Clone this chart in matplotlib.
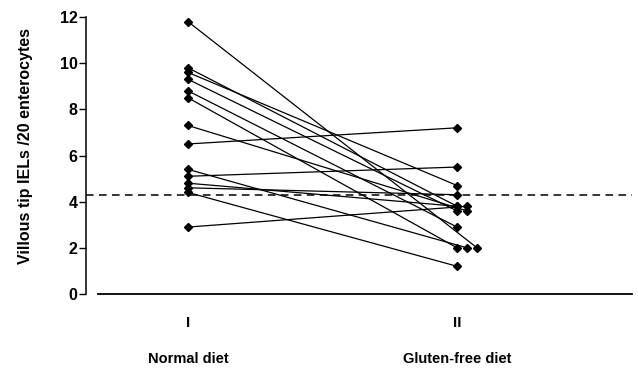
import matplotlib
matplotlib.use('Agg')
import matplotlib.pyplot as plt
import numpy as np

plt.rcParams['font.family'] = ['Liberation Sans', 'DejaVu Sans']

# IEL counts per patient: normal diet (I) -> gluten-free diet (II)
normal_diet = [11.8, 9.8, 9.6, 9.3, 8.8, 8.5, 7.3, 6.5, 5.4, 5.1, 4.8, 4.6, 4.4, 2.9]
gluten_free = [2.0, 3.8, 4.7, 3.6, 2.9, 2.0, 3.6, 7.2, 2.0, 5.5, 3.8, 4.3, 1.2, 3.8]
# small sideways shift used in the original to separate equal values
gf_shift = [0.074, 0, 0, 0, 0, 0, 0.037, 0, 0.037, 0, 0, 0, 0, 0.037]
cutoff = 4.3

group_pos = [1, 2]
group_ticks = ['I', 'II']
group_names = ['Normal diet', 'Gluten-free diet']

fig = plt.figure(figsize=(6.38, 3.74), dpi=100)
ax = fig.add_axes([86/638, 80/374, 546/638, 277/374])

for a, b, s in zip(normal_diet, gluten_free, gf_shift):
    ax.plot([group_pos[0], group_pos[1] + s], [a, b], '-', color='black',
            linewidth=0.9, marker='D', markersize=4.2, clip_on=False)

ax.axhline(cutoff, color='black', linestyle=(0, (5, 3.5)), linewidth=1.1)

ax.set_xlim(0.621, 2.65)
ax.set_ylim(0, 12)
ax.set_yticks(np.arange(0, 13, 2))
ax.tick_params(axis='y', direction='out', length=5, width=1, pad=1,
               labelsize=11.5)
for lab in ax.get_yticklabels():
    lab.set_fontweight('bold')
ax.set_xticks([])

ax.spines['top'].set_visible(False)
ax.spines['right'].set_visible(False)
ax.spines['left'].set_linewidth(1.1)
ax.spines['bottom'].set_linewidth(1.3)
ax.spines['bottom'].set_bounds(0.665, 2.65)

ax.set_ylabel('Villous tip IELs /20 enterocytes', fontsize=11.5,
              fontweight='bold')
ax.yaxis.set_label_coords(-0.097, 0.535)

trans = ax.get_xaxis_transform()
for x, t, n in zip(group_pos, group_ticks, group_names):
    ax.text(x, -0.105, t, transform=trans, ha='center', va='center',
            fontsize=11, fontweight='bold')
    ax.text(x, -0.235, n, transform=trans, ha='center', va='center',
            fontsize=10.5, fontweight='bold')

plt.savefig('out.png', dpi=100)
plt.close()
